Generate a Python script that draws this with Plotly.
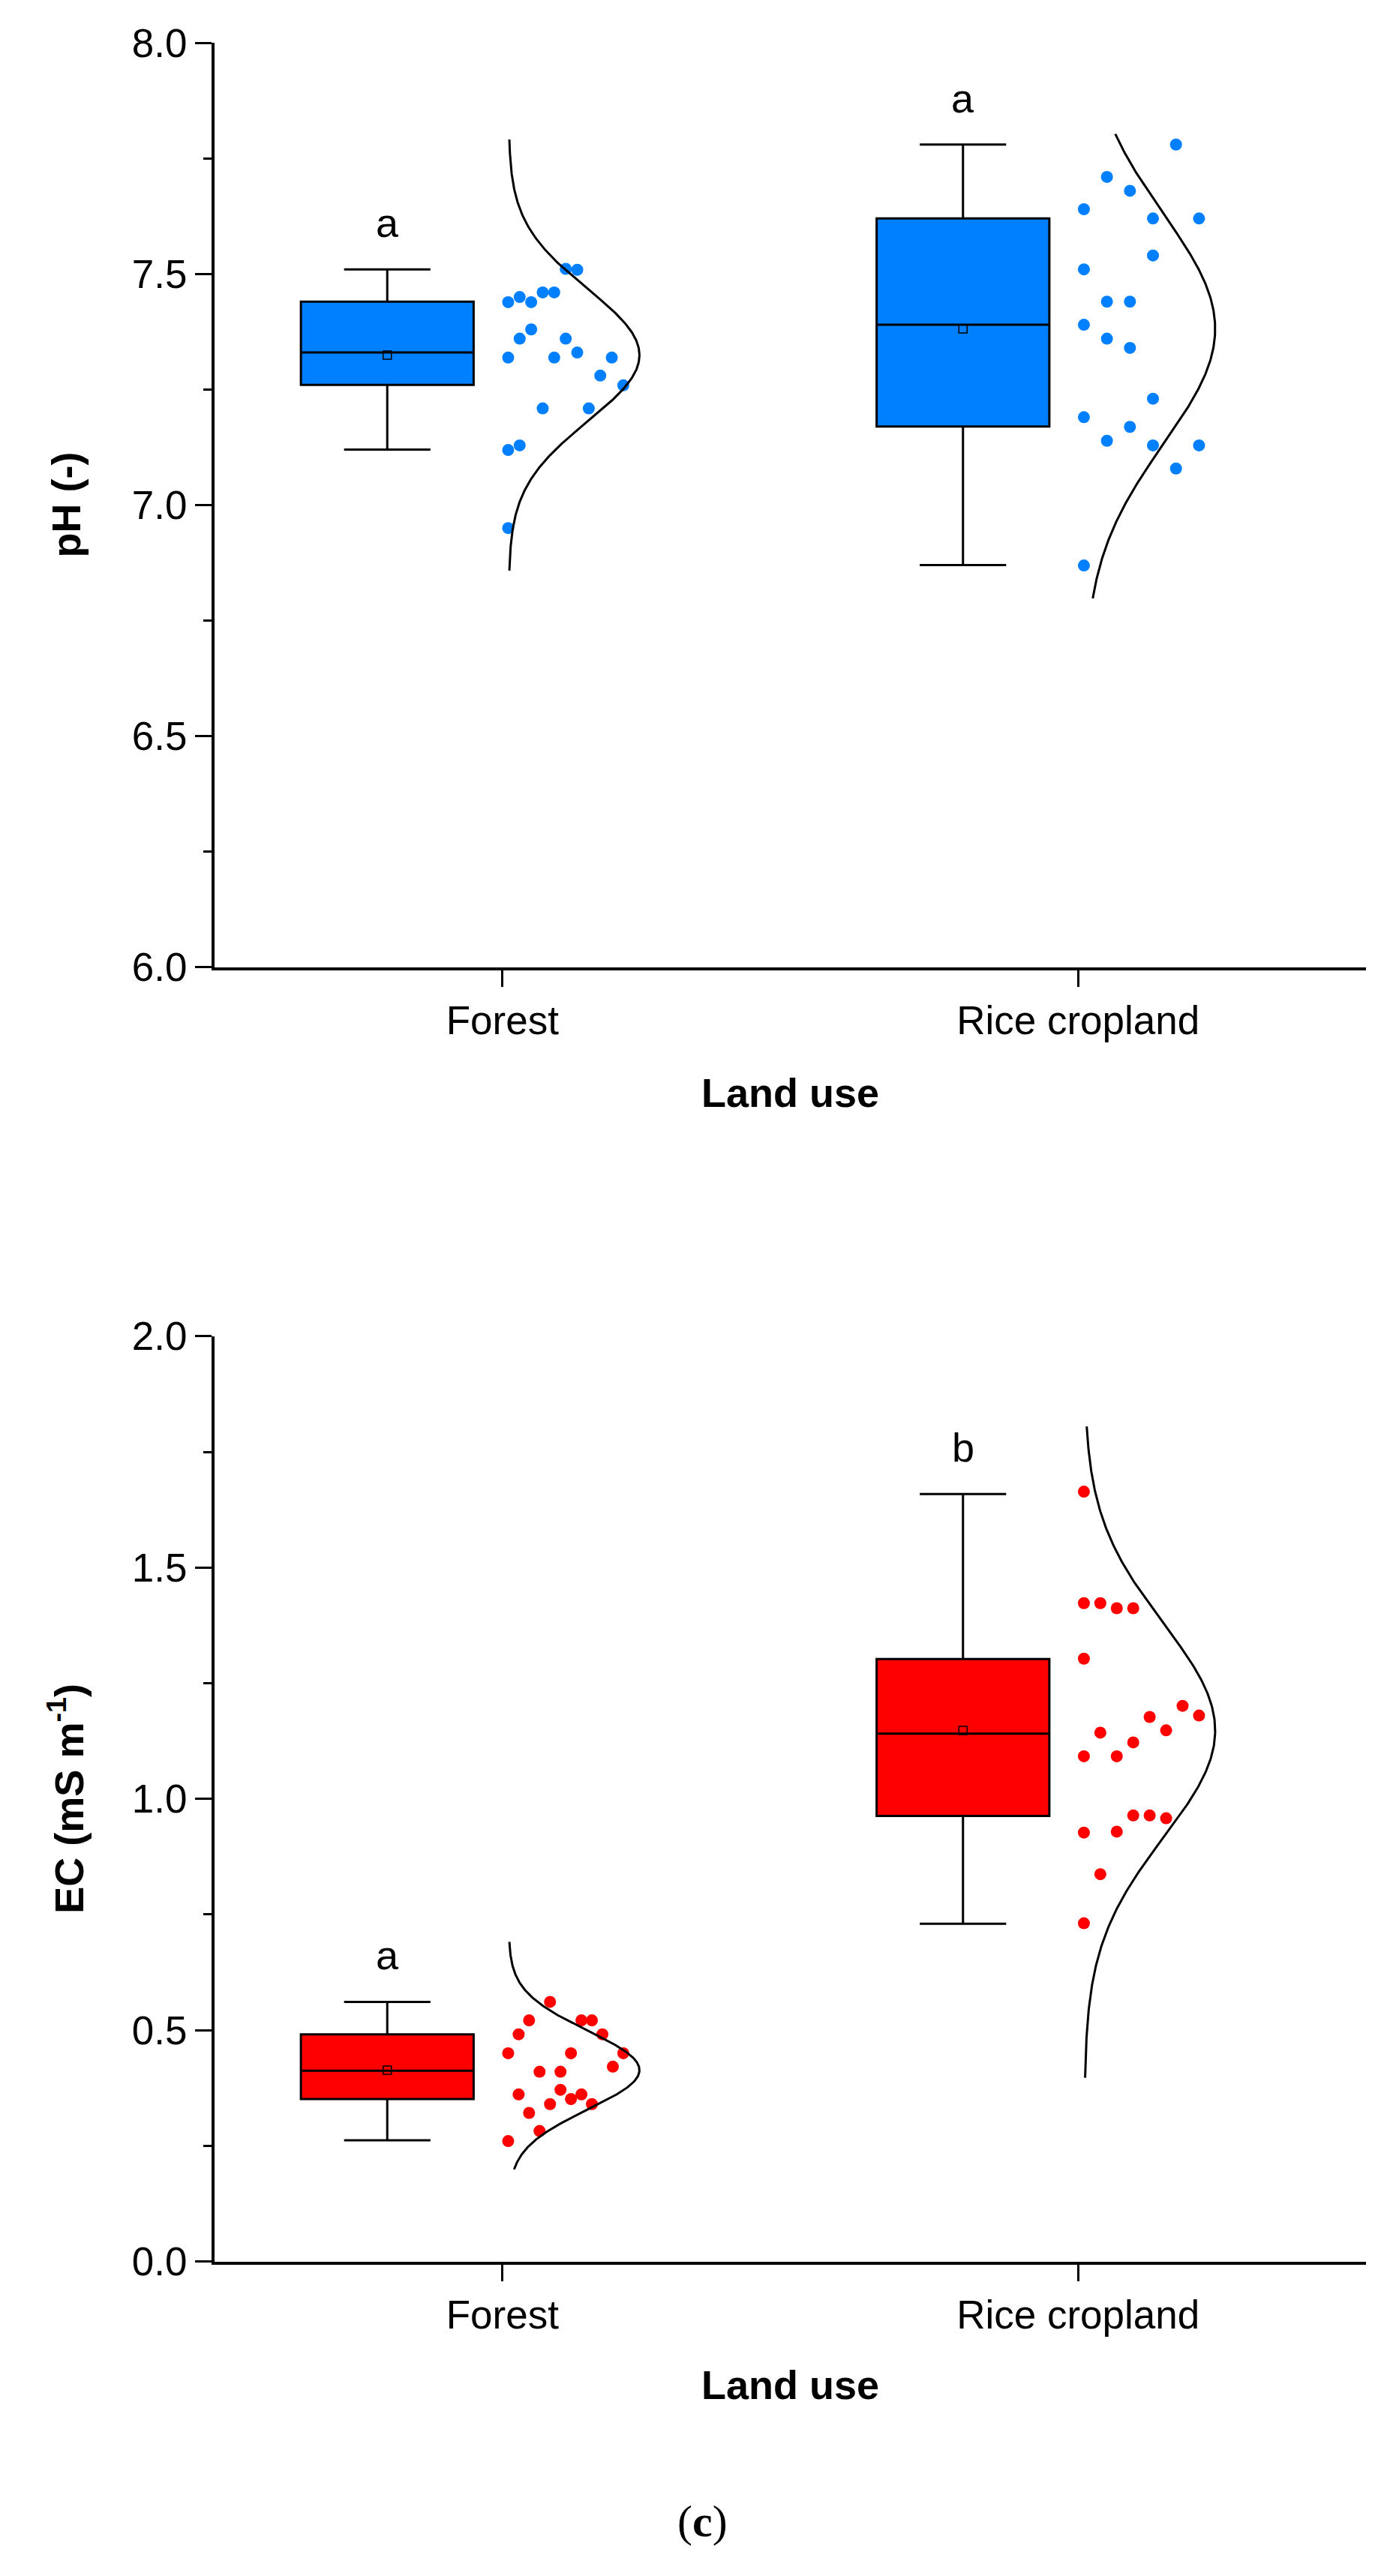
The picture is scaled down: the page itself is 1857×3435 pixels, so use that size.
import numpy as np
import plotly.graph_objects as go

# ---------------- data ----------------
categories = ["Forest", "Rice cropland"]

ph_forest = [7.511, 7.509, 7.439, 7.450, 7.439, 7.460, 7.460, 7.380, 7.360, 7.360, 7.319,
             7.319, 7.330, 7.319, 7.280, 7.259, 7.209, 7.209, 7.119, 7.129, 6.950]
ph_forest_slot = [5, 6, 0, 1, 2, 3, 4, 2, 1, 5, 0, 4, 6, 9, 8, 10, 3, 7, 0, 1, 0]

ph_rice = [7.780, 7.710, 7.680, 7.640, 7.620, 7.620, 7.540, 7.510, 7.440, 7.440, 7.390,
           7.360, 7.340, 7.230, 7.190, 7.169, 7.139, 7.129, 7.129, 7.079, 6.869]
ph_rice_slot = [4, 1, 2, 0, 3, 5, 3, 0, 1, 2, 0, 1, 2, 3, 0, 2, 1, 3, 5, 4, 0]

ec_forest = [0.561, 0.521, 0.521, 0.521, 0.491, 0.491, 0.450, 0.450, 0.450, 0.421, 0.410,
             0.410, 0.371, 0.361, 0.361, 0.351, 0.340, 0.340, 0.321, 0.282, 0.260]
ec_forest_slot = [4, 2, 7, 8, 1, 9, 0, 6, 11, 10, 3, 5, 5, 1, 7, 6, 4, 8, 2, 3, 0]

ec_rice = [1.664, 1.423, 1.423, 1.412, 1.412, 1.303, 1.201, 1.180, 1.177, 1.148, 1.122,
           1.143, 1.092, 1.092, 0.964, 0.964, 0.958, 0.927, 0.929, 0.837, 0.731]
ec_rice_slot = [0, 0, 1, 2, 3, 0, 6, 7, 4, 5, 3, 1, 0, 2, 3, 4, 5, 0, 2, 1, 0]

# number of jitter columns used for each group  [Forest, Rice]
ph_jitter_cols = [11, 6]
ec_jitter_cols = [12, 8]

# box statistics (Origin style: box = quartiles, whiskers = 1.5 IQR)
ph_q1 = [7.26, 7.17]
ph_median = [7.33, 7.39]
ph_q3 = [7.44, 7.62]
ph_lowerfence = [7.12, 6.87]
ph_upperfence = [7.51, 7.78]

ec_q1 = [0.351, 0.963]
ec_median = [0.412, 1.141]
ec_q3 = [0.491, 1.302]
ec_lowerfence = [0.262, 0.730]
ec_upperfence = [0.561, 1.659]

# extent of the drawn normal curves
ph_curve_lo = [6.858, 6.798]
ph_curve_hi = [7.791, 7.803]
ec_curve_lo = [0.199, 0.397]
ec_curve_hi = [0.691, 1.805]

ph_letters = ["a", "a"]
ec_letters = ["a", "b"]

ph_ticks = [6.0, 6.5, 7.0, 7.5, 8.0]
ec_ticks = [0.0, 0.5, 1.0, 1.5, 2.0]

# ---------------- layout constants ----------------
W, H = 1857, 3435
OFF = 8  # default page body margin of the html page (vertical)
X0, X1 = 278, 1813
TOP_Y = (57.2 - OFF, 1289.6 - OFF)
BOT_Y = (1781.8 - OFF, 3015.5 - OFF)
FONT = "Liberation Sans, Arial, sans-serif"
BLUE = "#0080FF"
RED = "#FF0000"

cat_pos = [1, 2]
BOX_OFF = -0.2
BOX_W = 0.3
JIT_OFF = 0.01
JIT_W = 0.2
CURVE_BASE = 0.011
CURVE_AMP = 0.227

fig = go.Figure()


def add_panel(groups, slots, jcols, q1, med, q3, lf, uf, clo, chi, letters, color, xa, ya):
    xref = xa
    yref = ya
    box_x = [p + BOX_OFF for p in cat_pos]
    fig.add_trace(go.Box(
        x=box_x, q1=q1, median=med, q3=q3, lowerfence=lf, upperfence=uf,
        width=BOX_W, whiskerwidth=0.5, fillcolor=color,
        line=dict(color="black", width=3), boxpoints=False,
        xaxis=xref, yaxis=yref, showlegend=False, hoverinfo="skip"))
    means = [float(np.mean(g)) for g in groups]
    fig.add_trace(go.Scatter(
        x=box_x, y=means, mode="markers",
        marker=dict(symbol="square-open", size=11, color="black", line=dict(width=1.5)),
        xaxis=xref, yaxis=yref, showlegend=False, hoverinfo="skip"))
    for i, g in enumerate(groups):
        xs = [cat_pos[i] + JIT_OFF + s / (jcols[i] - 1) * JIT_W for s in slots[i]]
        fig.add_trace(go.Scatter(
            x=xs, y=g, mode="markers",
            marker=dict(size=16, color=color, line=dict(width=0)),
            xaxis=xref, yaxis=yref, showlegend=False, hoverinfo="skip"))
        mu = float(np.mean(g))
        sd = float(np.std(g, ddof=1))
        yy = np.linspace(clo[i], chi[i], 300)
        xx = cat_pos[i] + CURVE_BASE + CURVE_AMP * np.exp(-(yy - mu) ** 2 / (2 * sd ** 2))
        fig.add_trace(go.Scatter(
            x=xx, y=yy, mode="lines", line=dict(color="black", width=3),
            xaxis=xref, yaxis=yref, showlegend=False, hoverinfo="skip"))
        fig.add_annotation(
            x=box_x[i], y=uf[i], xref=xref, yref=yref, text=letters[i],
            showarrow=False, yanchor="bottom", yshift=30,
            font=dict(family=FONT, size=54, color="black"))


add_panel([ph_forest, ph_rice], [ph_forest_slot, ph_rice_slot], ph_jitter_cols,
          ph_q1, ph_median, ph_q3, ph_lowerfence, ph_upperfence,
          ph_curve_lo, ph_curve_hi, ph_letters, BLUE, "x", "y")
add_panel([ec_forest, ec_rice], [ec_forest_slot, ec_rice_slot], ec_jitter_cols,
          ec_q1, ec_median, ec_q3, ec_lowerfence, ec_upperfence,
          ec_curve_lo, ec_curve_hi, ec_letters, RED, "x2", "y2")


def ydom(py):
    return [1 - py[1] / H, 1 - py[0] / H]


common_x = dict(
    domain=[X0 / W, X1 / W], range=[0.5, 2.5], tickvals=cat_pos, ticktext=categories,
    ticks="outside", ticklen=22, tickwidth=3, tickcolor="black",
    showline=True, linewidth=4, linecolor="black", showgrid=False, zeroline=False,
    automargin=False,
    tickfont=dict(family=FONT, size=53, color="black"), fixedrange=True)
common_y = dict(
    dtick=0.5, tickformat=".1f", ticks="outside", ticklen=22, tickwidth=3, tickcolor="black",
    minor=dict(ticks="outside", ticklen=11, tickwidth=3, tickcolor="black", dtick=0.25),
    showline=True, linewidth=4, linecolor="black", showgrid=False, zeroline=False,
    automargin=False,
    tickfont=dict(family=FONT, size=53, color="black"), fixedrange=True)

fig.update_layout(
    width=W, height=H,
    margin=dict(l=0, r=0, t=0, b=0, pad=0, autoexpand=False),
    paper_bgcolor="white", plot_bgcolor="white",
    xaxis=dict(anchor="y", **common_x),
    yaxis=dict(anchor="x", domain=ydom(TOP_Y), range=[ph_ticks[0], ph_ticks[-1]],
               tick0=ph_ticks[0], **common_y),
    xaxis2=dict(anchor="y2", **common_x),
    yaxis2=dict(anchor="x2", domain=ydom(BOT_Y), range=[ec_ticks[0], ec_ticks[-1]],
                tick0=ec_ticks[0], **common_y),
)

# axis titles
for ytxt, (ya, yb) in [("<b>pH (-)</b>", TOP_Y), ("<b>EC (mS m<sup>-1</sup>)</b>", BOT_Y)]:
    fig.add_annotation(x=80 / W, y=1 - (ya + yb) / 2 / H, xref="paper", yref="paper",
                       text=ytxt, textangle=-90, showarrow=False,
                       xanchor="center", yanchor="middle",
                       font=dict(family=FONT, size=54, color="black"))
for yc in [1457, 3180]:
    fig.add_annotation(x=(X0 + X1) / 2 / W, y=1 - (yc - OFF) / H, xref="paper", yref="paper",
                       text="<b>Land use</b>", showarrow=False,
                       xanchor="center", yanchor="middle",
                       font=dict(family=FONT, size=54, color="black"))

fig.add_annotation(x=928 / W, y=1 - (3362 - OFF) / H, xref="paper", yref="paper",
                   text="(<b>c</b>)", showarrow=False, xanchor="center", yanchor="middle",
                   font=dict(family="Liberation Serif, Times New Roman, serif", size=60, color="black"))

fig.write_html("out.html")
